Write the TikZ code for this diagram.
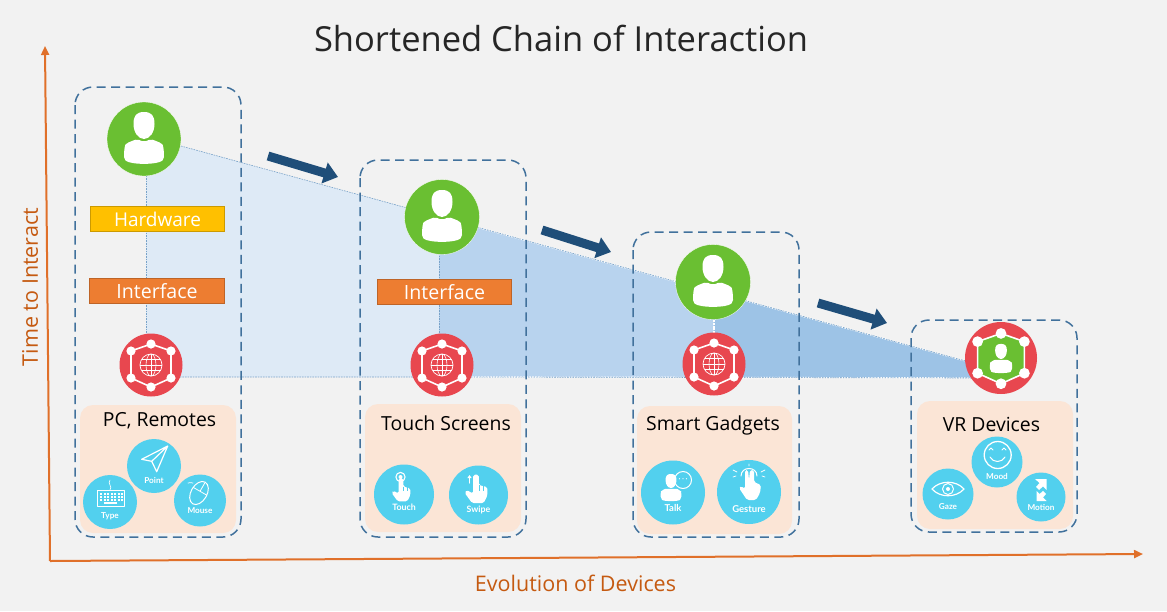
\documentclass[tikz,border=0pt]{standalone}
\usepackage{fontspec}
\setmainfont{Open Sans}
\newfontfamily\iconfont{Lato}
\usetikzlibrary{arrows.meta}
\definecolor{bgc}{HTML}{F2F2F2}
\definecolor{axisc}{HTML}{E0702A}
\definecolor{labelc}{HTML}{C55A11}
\definecolor{dashc}{HTML}{41719C}
\definecolor{greenc}{HTML}{6ABF32}
\definecolor{redc}{HTML}{E8474F}
\definecolor{cyanc}{HTML}{52D0EE}
\definecolor{peach}{HTML}{FBE5D6}
\definecolor{shadeA}{HTML}{DEEAF6}
\definecolor{shadeB}{HTML}{B8D3EE}
\definecolor{shadeC}{HTML}{9DC3E6}
\definecolor{hwc}{HTML}{FFC000}
\definecolor{ifc}{HTML}{ED7D31}
\definecolor{navy}{HTML}{1F4E79}
\tikzset{
 x=1pt,y=-1pt,
 dashbox/.style={draw=dashc,line width=1.5pt,dash pattern=on 9pt off 5.5pt,rounded corners=18pt,fill=none},
 peachbox/.style={fill=peach,rounded corners=13pt,draw=none},
 persondisc/.style={circle,fill=greenc,draw=white,line width=.3pt,minimum size=#1,inner sep=0pt},
 netdisc/.style={circle,fill=redc,minimum size=#1,inner sep=0pt},
 bluedisc/.style={circle,fill=cyanc,minimum size=#1,inner sep=0pt},
 layerbox/.style={minimum height=25.5pt,inner sep=0pt,line width=.8pt,text=white},
 devlabel/.style={font=\fontsize{19.4}{21}\selectfont,text=black},
 iconlabel/.style={font=\iconfont\bfseries\fontsize{8.2}{9}\selectfont,text=white,inner sep=0pt},
 axisline/.style={draw=axisc,line width=2pt,-{Triangle[length=9pt,width=8pt]}},
 axislabel/.style={text=labelc,font=\fontsize{21.5}{23}\selectfont},
 guide/.style={draw=#1,line width=.6pt,dash pattern=on 1.6pt off 1pt},
 flowarrow/.style={draw=navy,line width=9pt,-{Triangle[length=14pt,width=21pt]}},
 ico/.style={draw=white,line width=1pt,fill=none,line join=round,line cap=round},
 icof/.style={fill=white,draw=none},
}
\newcommand{\personglyph}[3]{\begin{scope}[shift={(#1,#2)},scale=#3]
 \fill[white] (0,-27) .. controls (8,-27) and (10.5,-23) .. (10.5,-15) .. controls (10.5,-7) and (6,0) .. (0,0) .. controls (-6,0) and (-10.5,-7) .. (-10.5,-15) .. controls (-10.5,-23) and (-8,-27) .. (0,-27) -- cycle;
 \fill[white,rounded corners=2pt] (-7,0) -- (0,3) -- (7,0) -- (17,4) .. controls (19,6) and (20,10) .. (20,20) .. controls (14,26) and (-14,26) .. (-20,20) .. controls (-20,10) and (-19,6) .. (-17,4) -- cycle;
\end{scope}}
\newcommand{\hexglyph}[4]{\begin{scope}[shift={(#1,#2)},scale=#3]
 \draw[white,line width=1.6pt,fill=#4] (0,-21) -- (20,-14) -- (20,13) -- (0,22) -- (-20,13) -- (-20,-14) -- cycle;
 \foreach \p/\q in {0/-21,20/-14,20/13,0/22,-20/13,-20/-14}{\fill[white] (\p,\q) circle (4.6);}
\end{scope}}
\newcommand{\globeglyph}[2]{\begin{scope}[shift={(#1,#2)}]
 \draw[white,line width=.7pt] (0,0) circle (11);
 \draw[white,line width=.6pt] (0,0) ellipse (5 and 11);
 \draw[white,line width=.6pt] (0,-11) -- (0,11) (-11,0) -- (11,0) (-9.5,-5.5) -- (9.5,-5.5) (-9.5,5.5) -- (9.5,5.5);
\end{scope}}
\newcommand{\handglyph}[3]{\begin{scope}[shift={(#1,#2)},scale=#3]
 \fill[white,rounded corners=1.8pt] (-3,-14) -- (3,-14) -- (3,-3) -- (12,-1) -- (12,8) -- (8,16) -- (-4,16) -- (-12,5) -- (-10,2) -- (-3,6) -- cycle;
 \draw[cyanc,line width=.5pt] (3,-3) -- (3,3) (7.5,-2) -- (7.5,3);
\end{scope}}
\begin{document}
\begin{tikzpicture}
\useasboundingbox (0,0) rectangle (1167,611);
\fill[bgc] (0,0) rectangle (1167,611);

% title
\node[font=\fontsize{34.5}{40}\selectfont,text=black!85] (title) at (561,38.5) {Shortened Chain of Interaction};

% axes
\coordinate (origin) at (50,561);
\coordinate (ytop) at (45,46);
\coordinate (xend) at (1143,554);
\draw[axisline] (origin) -- (ytop);
\draw[axisline] (origin) -- (xend);
\node[axislabel,rotate=90] (ylabel) at (30,287) {Time to Interact};
\node[axislabel] (xlabel) at (575.5,583) {Evolution of Devices};

% wedge
\coordinate (a0) at (146,136.4);
\coordinate (a1) at (439,216.7);
\coordinate (a2) at (714,292);
\coordinate (a3) at (975,363.5);
\coordinate (b0) at (146,377);
\coordinate (b1) at (439,377);
\coordinate (b2) at (714,377.5);
\coordinate (b3) at (975,378);
\fill[shadeA] (a0) -- (a1) -- (b1) -- (b0) -- cycle;
\fill[shadeB] (a1) -- (a2) -- (b2) -- (b1) -- cycle;
\fill[shadeC] (a2) -- (a3) -- (b3) -- (b2) -- cycle;
\draw[guide=white,line width=1.4pt,dash pattern=on 2pt off 1pt] (a1) -- (a3) (b1) -- (b3);
\draw[guide=white,line width=2.4pt,dash pattern=on 2pt off .8pt] (a2) -- (b2);
\draw[guide=shadeC!60!dashc] (a0) -- (a1) -- (a2) -- (a3);
\draw[guide=shadeC!60!dashc] (b0) -- (b1) -- (b2) -- (b3);
\draw[guide=shadeC!60!dashc] (a0) -- (b0);
\draw[guide=shadeC!60!dashc] (a1) -- (b1);

% peach panels
\fill[peachbox] (80,405) rectangle (236,533);
\fill[peachbox] (365,404) rectangle (521,532);
\fill[peachbox] (637,406) rectangle (792,534);
\fill[peachbox] (917,401) rectangle (1073,529);

% dashed frames
\draw[dashbox] (75,87) rectangle (241,537);
\draw[dashbox] (360,160) rectangle (526,537);
\draw[dashbox] (633,232) rectangle (799,537);
\draw[dashbox] (911,320) rectangle (1077,532);

% flow arrows
\coordinate (f1a) at (268,156); \coordinate (f1b) at (338,177);
\coordinate (f2a) at (542,230); \coordinate (f2b) at (611,252);
\coordinate (f3a) at (818,303); \coordinate (f3b) at (887,323);
\draw[flowarrow] (f1a) -- (f1b);
\draw[flowarrow] (f2a) -- (f2b);
\draw[flowarrow] (f3a) -- (f3b);

% layer boxes
\node[layerbox,fill=hwc,draw=hwc!80!black,minimum width=134.5pt,font=\fontsize{19}{21}\selectfont] (hw) at (157.5,219) {Hardware};
\node[layerbox,fill=ifc,draw=ifc!80!black,minimum width=135.5pt,font=\fontsize{19.6}{21}\selectfont] (if1) at (157,291) {Interface};
\node[layerbox,fill=ifc,draw=ifc!80!black,minimum width=134.5pt,font=\fontsize{19.6}{21}\selectfont] (if2) at (444.5,292) {Interface};

% persons
\node[persondisc=74pt] (p1) at (144,139) {};
\personglyph{144}{139}{1}
\node[persondisc=75pt] (p2) at (442,217) {};
\personglyph{442}{217}{1}
\node[persondisc=75pt] (p3) at (713,282) {};
\personglyph{713}{282}{1}

% networks
\node[netdisc=63pt] (n1) at (151,365) {};
\hexglyph{151}{365}{1}{redc}\globeglyph{151}{365}
\node[netdisc=63pt] (n2) at (442,365) {};
\hexglyph{442}{365}{1}{redc}\globeglyph{442}{365}
\node[netdisc=63pt] (n3) at (714,364) {};
\hexglyph{714}{364}{1}{redc}\globeglyph{714}{364}
\node[netdisc=72pt] (n4) at (1001,358) {};
\hexglyph{1001}{358}{1.17}{greenc}
\personglyph{1001}{359}{.56}

% device labels
\node[devlabel] (d1) at (159.5,421) {PC, Remotes};
\node[devlabel] (d2) at (446,423) {Touch Screens};
\node[devlabel] (d3) at (713,425) {Smart Gadgets};
\node[devlabel] (d4) at (991.5,424) {VR Devices};

% Point
\node[bluedisc=54pt] (c1) at (154,466) {};
\draw[ico,line width=1.2pt] (167.7,446) -- (141.7,459.3) -- (151.7,461.3) -- (156.7,471.7) -- cycle (167.7,446) -- (151.7,461.3);
\node[iconlabel] (l1) at (154,480) {Point};
% Type
\node[bluedisc=54pt] (c2) at (110,502) {};
\draw[ico] (97,490) rectangle (124,506);
\draw[ico,line width=.6pt] (110,490) .. controls (113,486) and (107,484) .. (110,480);
\foreach \u in {100,103.5,107,110.5,114,117.5,121}{\foreach \v in {493,496,499}{\fill[white] (\u,\v) rectangle +(2.2,2);}}
\fill[white] (104,502.3) rectangle (117,504.3);
\node[iconlabel] (l2) at (110,516) {Type};
% Mouse
\node[bluedisc=52pt] (c3) at (200,500.5) {};
\draw[ico,rotate around={-30:(199,493)}] (199,493) ellipse (8 and 12.5);
\draw[ico,line width=.8pt,rotate around={-30:(199,493)}] (191,491) -- (207,491) (199,481) -- (199,491);
\draw[ico,line width=.7pt] (193,483) .. controls (191,481) and (190,484) .. (188,483);
\node[iconlabel] (l3) at (200,511) {Mouse};
% Touch
\node[bluedisc=60pt] (c4) at (404,494.5) {};
\draw[ico,line width=1.1pt] (400.5,477) circle (4.6);
\fill[white] (400.5,477) circle (2);
\handglyph{401}{489}{.78}
\node[iconlabel,font=\iconfont\bfseries\fontsize{8.8}{9}\selectfont] (l4) at (404,507.5) {Touch};
% Swipe
\node[bluedisc=59pt] (c5) at (478.5,495) {};
\handglyph{476}{488}{.95}
\draw[ico,-{Triangle[length=3pt,width=4pt]}] (469.5,483) -- (469.5,475);
\node[iconlabel,font=\iconfont\bfseries\fontsize{8.8}{9}\selectfont] (l5) at (478.5,509.5) {Swipe};
% Talk
\node[bluedisc=64pt] (c6) at (673,492.5) {};
\draw[ico] (683,480) circle (8.5);
\fill[white] (679.5,478.7) circle (.7) (683,478.7) circle (.7) (686.5,478.7) circle (.7);
\personglyph{671}{488}{.52}
\node[iconlabel,font=\iconfont\bfseries\fontsize{9.5}{10}\selectfont] (l6) at (673,508) {Talk};
% Gesture
\node[bluedisc=64pt] (c7) at (749,492) {};
\fill[white,rounded corners=1.8pt] (745,470) -- (748,470) -- (749,480) -- (750,470) -- (754,470) -- (754,482) -- (761,485) -- (760,493) -- (756,500) -- (747,500) -- (739,488) -- (741,486) -- (745,489) -- cycle;
\draw[ico] (741,476) .. controls (741,466) and (757,466) .. (757,476);
\draw[ico,line width=.7pt] (737,472) -- (733,470) (736,476) -- (733,477) (761,472) -- (765,470) (762,476) -- (765,477) (749,464) -- (749,466);
\node[iconlabel,font=\iconfont\bfseries\fontsize{9.5}{10}\selectfont] (l7) at (749,509.5) {Gesture};
% Mood
\node[bluedisc=51pt] (c8) at (997,462) {};
\draw[ico,line width=1.3pt] (997.7,455) circle (13.5);
\draw[ico] (989,450) -- (991,448) -- (993,450) (1002,450) -- (1004,448) -- (1006,450);
\draw[ico] (990,457) .. controls (993,463) and (1002,463) .. (1005,457);
\node[iconlabel] (l8) at (997,476) {Mood};
% Gaze
\node[bluedisc=51pt] (c9) at (948,494) {};
\draw[ico,line width=1.2pt] (932,489) .. controls (940,480) and (956,480) .. (964,489) .. controls (956,498) and (940,498) .. (932,489) -- cycle;
\draw[ico] (948,489) circle (5.5);
\fill[white] (948,489) circle (2);
\node[iconlabel] (l9) at (948,507) {Gaze};
% Motion
\node[bluedisc=49pt] (c10) at (1041,497) {};
\fill[white] (1035,479) -- (1046.5,479) -- (1046.5,490) -- (1043,486.5) -- (1039,490) -- (1036,487) -- (1039.5,483) -- cycle;
\fill[white] (1046.5,501) -- (1036.5,501) -- (1036.5,491) -- (1039.5,494) -- (1043,491) -- (1046,494) -- (1043,497.5) -- cycle;
\node[iconlabel] (l10) at (1041,507) {Motion};
\end{tikzpicture}
\end{document}
